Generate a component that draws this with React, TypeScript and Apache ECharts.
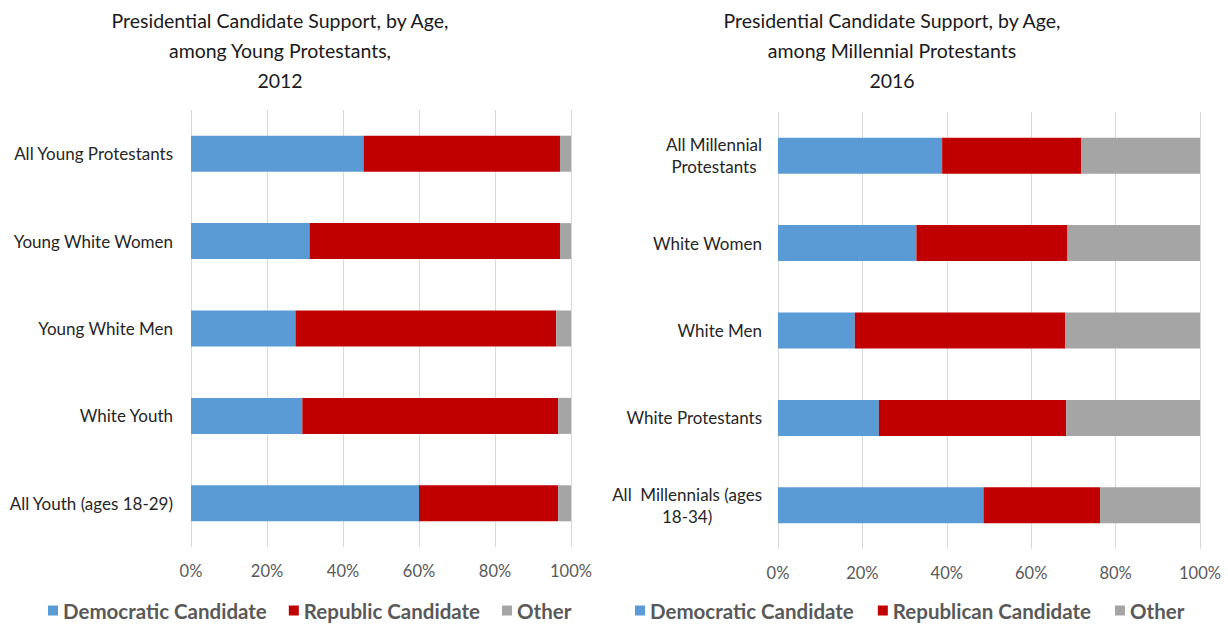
import React, { useEffect, useRef } from "react";
import * as echarts from "echarts";

const leftCategories = [
  "All Young Protestants",
  "Young White Women",
  "Young White Men",
  "White Youth",
  "All Youth (ages 18-29)",
];
const leftDem = [45.4, 31.2, 27.5, 29.3, 60.0];
const leftRep = [51.7, 65.9, 68.6, 67.3, 36.6];
const leftOther = [2.9, 2.9, 3.9, 3.4, 3.4];

const rightCategories = [
  "All Millennial\nProtestants",
  "White Women",
  "White Men",
  "White Protestants",
  "All  Millennials (ages\n18-34)",
];
const rightDem = [38.9, 32.8, 18.2, 23.9, 48.7];
const rightRep = [33.0, 35.8, 49.9, 44.4, 27.6];
const rightOther = [28.1, 31.4, 31.9, 31.7, 23.7];

const xTicks = [0, 20, 40, 60, 80, 100];

const leftTitle = "Presidential Candidate Support, by Age,\namong Young Protestants,\n2012";
const rightTitle = "Presidential Candidate Support, by Age,\namong Millennial Protestants\n2016";

const leftNames = ["Democratic Candidate", "Republic Candidate", "Other"];
const rightNames = ["Democratic Candidate", "Republican Candidate", "Other"];

const BLUE = "#5B9BD5";
const RED = "#C00000";
const GRAY = "#A5A5A5";
const FONT = "Lato";

export default function App() {
  const ref = useRef<HTMLDivElement>(null);
  useEffect(() => {
    if (!ref.current) return;
    const chart = echarts.init(ref.current, undefined, { renderer: "svg" });
    const xAxisCommon = (gridIndex: number) => ({
      type: "value",
      gridIndex,
      min: xTicks[0],
      max: xTicks[xTicks.length - 1],
      interval: 20,
      axisLine: { show: false },
      axisTick: { show: false },
      splitLine: { show: true, lineStyle: { color: "#D9D9D9", width: 1 } },
      axisLabel: {
        formatter: "{value}%",
        color: "#595959",
        fontFamily: FONT,
        fontSize: 16.5,
        margin: 15,
      },
    });
    const mk = (name: string, data: number[], color: string, idx: number, stack: string) => ({
      type: "bar",
      name,
      data,
      stack,
      xAxisIndex: idx,
      yAxisIndex: idx,
      barWidth: 36,
      itemStyle: { color },
    });
    const titleStyle = { fontFamily: FONT, fontSize: 19.5, fontWeight: "normal", color: "#1a1a1a", lineHeight: 30 };
    const legendText = { fontFamily: FONT, fontSize: 20.5, fontWeight: "bold", color: "#595959", lineHeight: 21 };
    chart.setOption({
      animation: false,
      backgroundColor: "#fff",
      textStyle: { fontFamily: FONT },
      title: [
        { text: leftTitle, left: 275, top: 0, textAlign: "center", textStyle: titleStyle },
        { text: rightTitle, left: 887, top: 0, textAlign: "center", textStyle: titleStyle },
      ],
      legend: [
        {
          data: leftNames,
          left: 48,
          top: 600,
          padding: 0,
          itemWidth: 10,
          itemHeight: 10,
          itemGap: 22,
          icon: "rect",
          textStyle: legendText,
        },
        {
          data: rightNames,
          left: 635,
          top: 600,
          padding: 0,
          itemWidth: 10,
          itemHeight: 10,
          itemGap: 24,
          icon: "rect",
          textStyle: legendText,
        },
      ],
      grid: [
        { left: 191, right: 657, top: 110, bottom: 78 },
        { left: 778, right: 28, top: 112, bottom: 76 },
      ],
      xAxis: [xAxisCommon(0), xAxisCommon(1)],
      yAxis: [
        {
          type: "category",
          gridIndex: 0,
          data: leftCategories,
          inverse: true,
          axisLine: { show: false },
          axisTick: { show: false },
          axisLabel: { color: "#262626", fontFamily: FONT, fontSize: 17, margin: 18 },
        },
        {
          type: "category",
          gridIndex: 1,
          data: rightCategories,
          inverse: true,
          axisLine: { show: false },
          axisTick: { show: false },
          axisLabel: {
            color: "#262626",
            fontFamily: FONT,
            fontSize: 17,
            margin: 16,
            formatter: (v: string) => `{c|${v}}`,
            rich: { c: { align: "center", color: "#262626", fontFamily: FONT, fontSize: 17, lineHeight: 22 } },
          },
        },
      ],
      series: [
        mk(leftNames[0], leftDem, BLUE, 0, "l"),
        mk(leftNames[1], leftRep, RED, 0, "l"),
        mk(leftNames[2], leftOther, GRAY, 0, "l"),
        mk(rightNames[0], rightDem, BLUE, 1, "r"),
        mk(rightNames[1], rightRep, RED, 1, "r"),
        mk(rightNames[2], rightOther, GRAY, 1, "r"),
      ],
    });
    return () => chart.dispose();
  }, []);
  return (
    <div
      ref={ref}
      style={{ position: "absolute", left: 0, top: 0, width: 1228, height: 625, background: "#fff" }}
    />
  );
}
